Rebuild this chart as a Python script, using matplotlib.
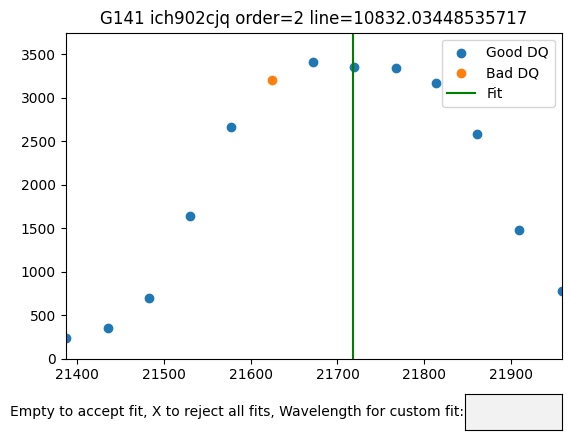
import matplotlib
matplotlib.use("Agg")
import matplotlib.pyplot as plt
from matplotlib.widgets import TextBox
import numpy as np

wavelength = [21387, 21435.5, 21482.8, 21530.4, 21577.7, 21625.0, 21672.0,
              21719.6, 21766.9, 21813.9, 21861.0, 21908.8, 21958.0]
flux = [234, 349, 694, 1637, 2660, 3211, 3418, 3361, 3349, 3177, 2579, 1476, 778]
good_dq = [True, True, True, True, True, False, True, True, True, True, True, True, True]
fit_wavelength = 21717.8
title = "G141 ich902cjq order=2 line=10832.03448535717"
prompt = "Empty to accept fit, X to reject all fits, Wavelength for custom fit:"

wl = np.array(wavelength)
fl = np.array(flux)
good = np.array(good_dq)

fig = plt.figure(figsize=(5.7, 4.45), dpi=100)
ax = fig.add_axes([65.7 / 570, 1 - 358.7 / 445, (561.5 - 65.7) / 570, (358.7 - 32.7) / 445])
ax.scatter(wl[good], fl[good], label="Good DQ")
ax.scatter(wl[~good], fl[~good], label="Bad DQ")
ax.axvline(fit_wavelength, color="green", label="Fit")
ax.set_xlim(wl.min(), wl.max())
ax.set_ylim(0, 3750)
ax.set_title(title)
ax.legend(loc="upper right")

tax = fig.add_axes([465 / 570, 1 - 430.3 / 445, 96.7 / 570, 36.3 / 445])
tb = TextBox(tax, prompt)

fig.savefig("out.png", dpi=100)
